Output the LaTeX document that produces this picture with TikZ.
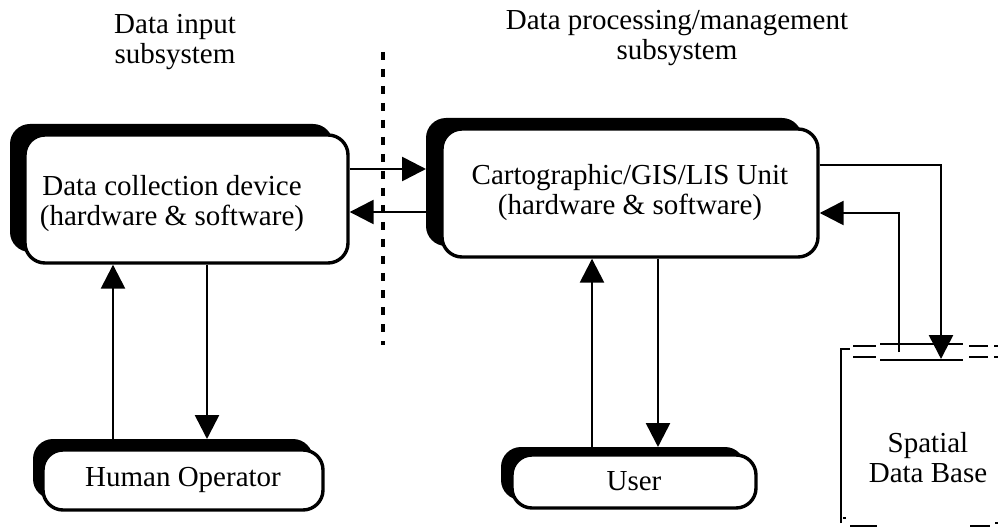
\documentclass[tikz,border=0pt]{standalone}
\usepackage{fontspec}
\setmainfont{Liberation Serif}
\usetikzlibrary{arrows.meta}

\begin{document}
\begin{tikzpicture}[x=1pt,y=-1pt,
  txt/.style={font=\fontsize{29}{30}\selectfont, align=center, inner sep=0pt},
  unitbox/.style={draw, line width=3.4pt, rounded corners=20pt, fill=white, inner sep=0pt},
  shadowbox/.style={fill=black, rounded corners=20pt, inner sep=0pt, outer sep=0pt},
  flow/.style={line width=2.6pt, -{Triangle[length=24pt,width=24pt]}},
  link/.style={line width=2.6pt},
  divider/.style={line width=3.2pt, dash pattern=on 8pt off 9pt},
]
\useasboundingbox (0,0) rectangle (998,529);

% subsystem headings
\node[txt] (intitle) at (175,42) {Data input\\subsystem};
\node[txt] (proctitle) at (677,38) {Data processing/management\\subsystem};

% divider between the two subsystems
\coordinate (divtop) at (383,52);
\coordinate (divbot) at (383,345);
\draw[divider] (divtop) -- (divbot);

% shadows
\node[shadowbox, minimum width=323pt, minimum height=128pt] (dcsh) at (171.5,188) {};
\node[shadowbox, minimum width=376pt, minimum height=128pt] (cartosh) at (614,182) {};
\node[shadowbox, minimum width=280pt, minimum height=60pt] (hosh) at (173,469) {};
\node[shadowbox, minimum width=244pt, minimum height=53pt] (usersh) at (623,473.5) {};

% units
\node[unitbox, minimum width=323pt, minimum height=128pt] (dc) at (186.5,199) {};
\node[txt] (dctext) at (172,204) {Data collection device\\(hardware \& software)};
\node[unitbox, minimum width=376pt, minimum height=128pt, txt] (carto) at (630,193)
  {Cartographic/GIS/LIS Unit\\(hardware \& software)};
\node[unitbox, minimum width=280pt, minimum height=60pt, txt] (ho) at (183,480) {Human Operator};
\node[unitbox, minimum width=244pt, minimum height=53pt, txt] (user) at (634,481.5) {User};

% rows and columns of the connectors
\coordinate (r1) at (0,169);
\coordinate (r2) at (0,212);
\coordinate (r3) at (0,165);
\coordinate (r4) at (0,213);
\coordinate (c1) at (113,0);
\coordinate (c2) at (207,0);
\coordinate (c3) at (592,0);
\coordinate (c4) at (658,0);

% spatial data base
\coordinate (dbin) at (941,359);
\coordinate (dbout) at (899,352);
\draw[link] (841,523) -- (841,349) -- (850,349);
\draw[link] (880,344) -- (963,344);
\draw[link] (880,360) -- (963,360);
\draw[link] (853,346) -- (876,346);
\draw[link] (853,357) -- (876,357);
\draw[link] (969,346) -- (988,346);
\draw[link] (969,357) -- (988,357);
\draw[link] (994,346) -- (998,346);
\draw[link] (994,357) -- (998,357);
\draw[link] (843,518) -- (846,518);
\draw[link] (850,526) -- (877,526);
\draw[link] (970,526) -- (990,526);
\draw[link] (995,523) -- (998,523);
\node[txt] (dbtext) at (928,458) {Spatial\\Data Base};

% connectors
\draw[flow] (dc.east |- r1) -- (cartosh.west |- r1);
\draw[flow] (cartosh.west |- r2) -- (dc.east |- r2);
\draw[flow] (c1 |- hosh.north) -- (c1 |- dc.south);
\draw[flow] (c2 |- dc.south) -- (c2 |- hosh.north);
\draw[flow] (c3 |- usersh.north) -- (c3 |- carto.south);
\draw[flow] (c4 |- carto.south) -- (c4 |- usersh.north);
\draw[flow] (carto.east |- r3) -| (dbin);
\draw[flow] (dbout) |- (carto.east |- r4);
\end{tikzpicture}
\end{document}
